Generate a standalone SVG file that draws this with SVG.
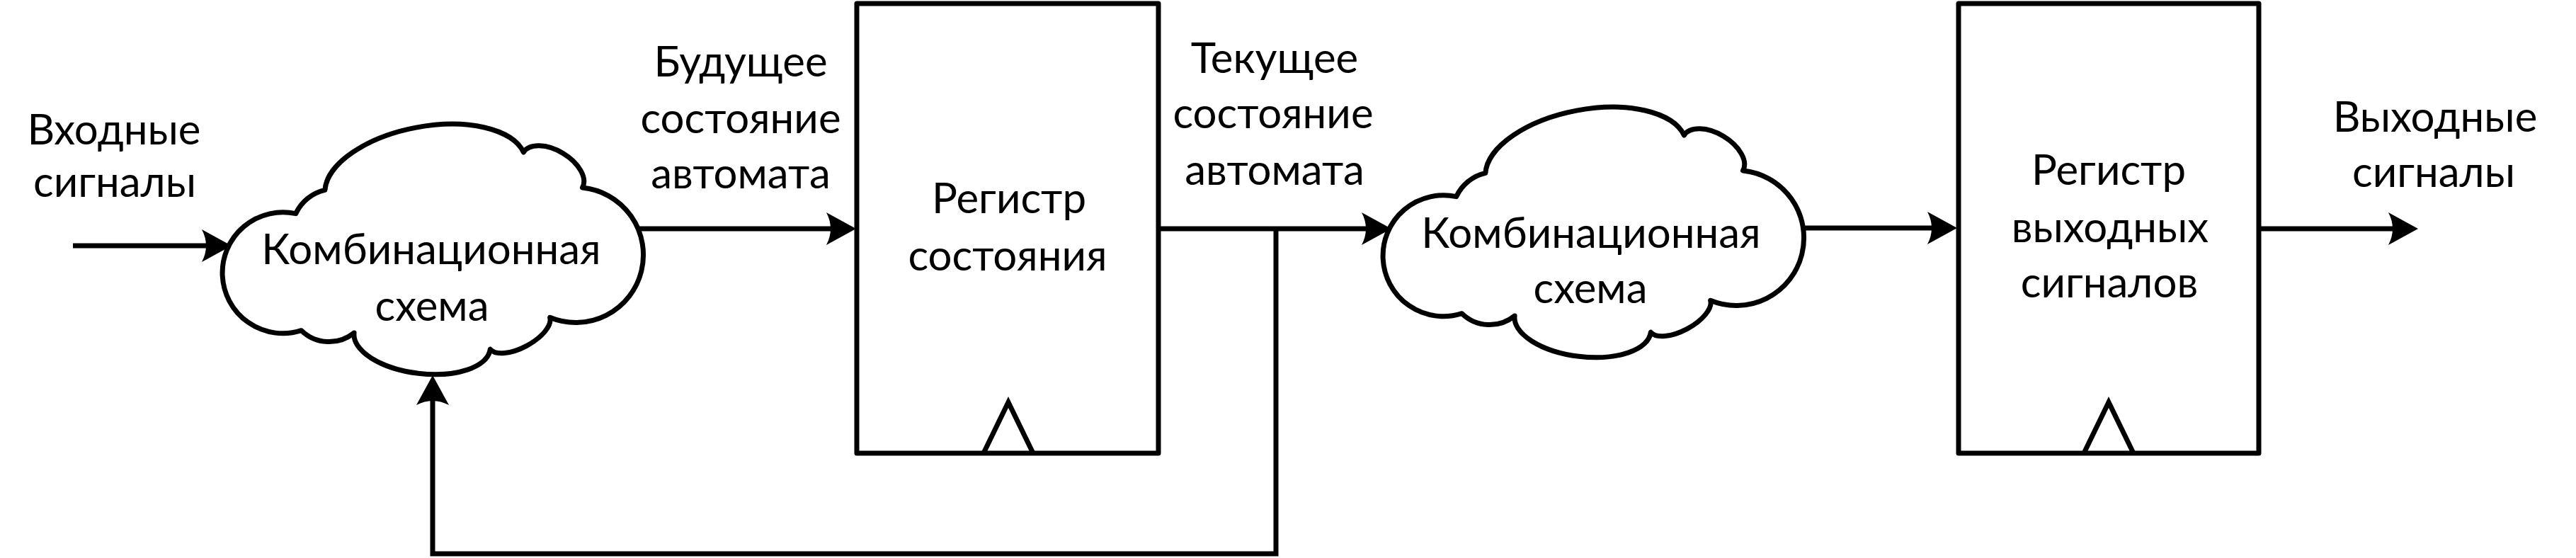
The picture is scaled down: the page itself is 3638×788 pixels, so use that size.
<svg xmlns="http://www.w3.org/2000/svg" xmlns:xlink="http://www.w3.org/1999/xlink" width="3638" height="788" viewBox="0 0 3638 788">
<style>
.ln{fill:none;stroke:#000;stroke-width:7;stroke-linecap:butt}
.box{fill:#fff;stroke:#000;stroke-width:7;stroke-linejoin:round}
.clk{fill:none;stroke:#000;stroke-width:7;stroke-linejoin:miter}
.cl{fill:#fff;stroke:#000;stroke-width:7;stroke-linejoin:round}
text{font-family:Lato,"Noto Sans","DejaVu Sans",sans-serif;font-size:60px;fill:#000;text-anchor:middle}
</style>
<defs>
<marker id="ah" markerUnits="userSpaceOnUse" markerWidth="50" markerHeight="50" refX="24" refY="25" orient="auto">
<path d="M44,25 L2,2 Q14,25 2,48 Z" fill="#000"/>
</marker>
<path id="cloud" d="M418.7,301.7 A60,60 0 0 1 459.9,268.3 A144,72 -10.8 0 1 740.4,215 A48.5,28 31 0 1 823.5,265 A95.5,95.5 0 1 1 777.6,448.3 A48,22 -28.1 0 1 693.3,493.3 A96.8,46 6.9 0 1 501.1,470 A56,56 0 0 1 426.6,466.7 A85.5,85.5 0 1 1 418.7,301.7 Z"/>
</defs>
<g id="connectors">
<path class="ln" d="M103,347 H307" marker-end="url(#ah)"/>
<path class="ln" d="M880,323 H1189" marker-end="url(#ah)"/>
<path class="ln" d="M1636,323 H1945" marker-end="url(#ah)"/>
<path class="ln" d="M2530,322 H2744" marker-end="url(#ah)"/>
<path class="ln" d="M3190,323 H3395" marker-end="url(#ah)"/>
<path class="ln" d="M1802,323 V782 H611 V550" stroke-linejoin="miter" marker-end="url(#ah)"/>
</g>
<g id="cloud1">
<use xlink:href="#cloud" class="cl" transform="translate(-1,0)"/>
<text x="609" y="373">Комбинационная</text>
<text x="610" y="453">схема</text>
</g>
<g id="reg1">
<rect class="box" x="1210" y="5" width="426" height="635"/>
<path class="clk" d="M1389,640 L1424,568 L1459,640"/>
<text x="1425" y="301">Регистр</text>
<text x="1423" y="382">состояния</text>
</g>
<g id="cloud2">
<use xlink:href="#cloud" class="cl" transform="translate(1638,-24)"/>
<text x="2247" y="350">Комбинационная</text>
<text x="2246" y="428">схема</text>
</g>
<g id="reg2">
<rect class="box" x="2766" y="5" width="424" height="635"/>
<path class="clk" d="M2943,640 L2978,568 L3013,640"/>
<text x="2978" y="261">Регистр</text>
<text x="2980" y="342">выходных</text>
<text x="2979" y="420">сигналов</text>
</g>
<g id="labels">
<text x="161" y="204">Входные</text>
<text x="162" y="278">сигналы</text>
<text x="1046" y="108">Будущее</text>
<text x="1046" y="188">состояние</text>
<text x="1046" y="266">автомата</text>
<text x="1800" y="103">Текущее</text>
<text x="1798" y="181">состояние</text>
<text x="1800" y="261">автомата</text>
<text x="3439" y="186">Выходные</text>
<text x="3437" y="264">сигналы</text>
</g>
</svg>
